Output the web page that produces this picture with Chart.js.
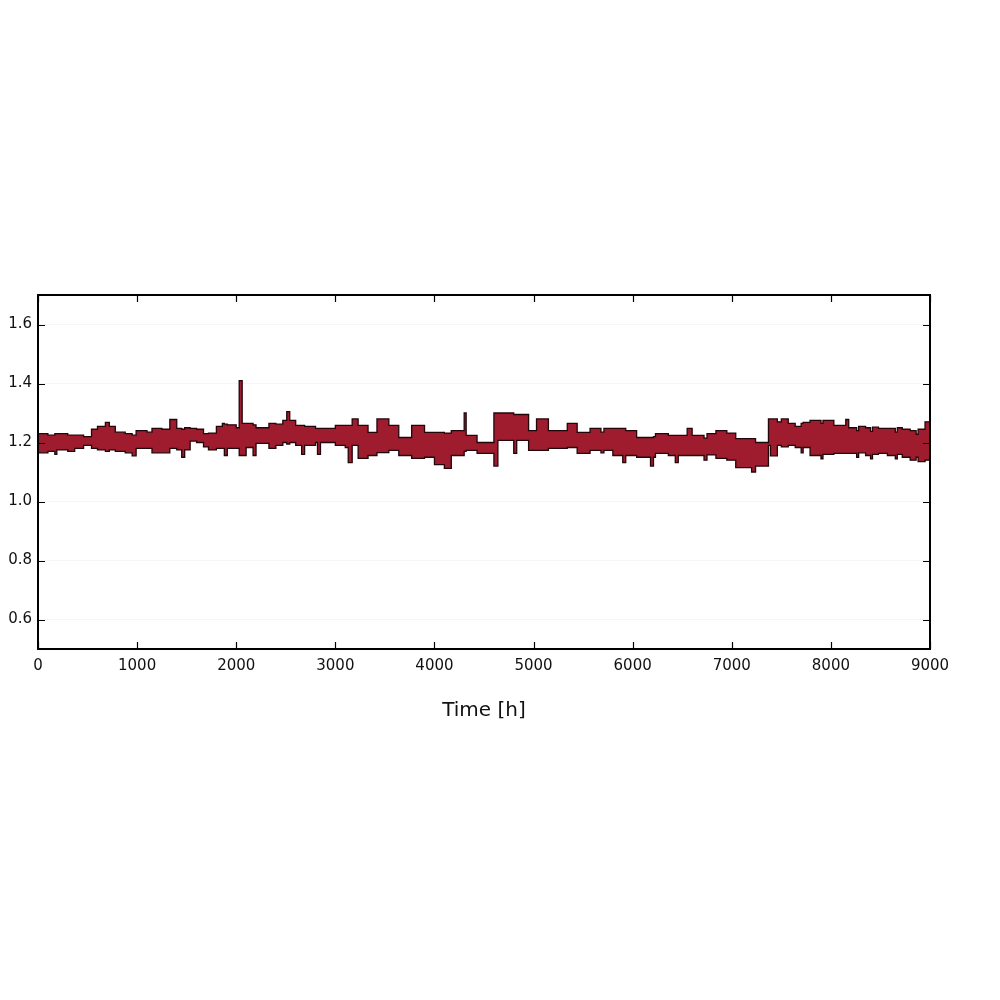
<!DOCTYPE html>
<html>
<head>
<meta charset="utf-8">
<title>Time series</title>
<script src="https://cdn.jsdelivr.net/npm/chart.js@4.4.1/dist/chart.umd.min.js"></script>
<style>
  html, body { margin: 0; padding: 0; background: #fff; }
  #wrap { width: 1000px; height: 1000px; }
</style>
</head>
<body>
<div id="wrap"><canvas id="signalChart" width="1000" height="1000"></canvas></div>
<script>
// ==========================
// Data (upper / lower edge of the dense band)
// ==========================
const hours = [
  0, 100, 170, 190, 300, 370, 460, 540, 600, 680, 720, 780, 880, 950, 990,
  1100, 1150, 1250, 1330, 1400, 1450, 1480, 1535, 1600, 1670, 1720, 1800, 1860, 1880, 1910,
  2000, 2030, 2060, 2100, 2170, 2200, 2330, 2400, 2470, 2510, 2540, 2600, 2660, 2690, 2800, 2820, 2850,
  3000, 3100, 3130, 3170, 3230, 3330, 3420, 3540, 3640, 3770, 3900,
  4000, 4100, 4170, 4300, 4320, 4430, 4600, 4640, 4800, 4830, 4950,
  5030, 5150, 5340, 5440, 5570, 5680, 5710, 5800, 5900, 5930,
  6040, 6180, 6210, 6230, 6360, 6430, 6460, 6550, 6600, 6720, 6750, 6840, 6950,
  7040, 7200, 7240, 7370, 7390, 7460, 7500, 7570, 7640, 7700, 7720, 7790, 7900, 7920,
  8030, 8150, 8180, 8260, 8280, 8350, 8400, 8420, 8480, 8570, 8650, 8670, 8720, 8800, 8860, 8880, 8950, 9000
];
const upper = [
  1.23, 1.225, 1.23, 1.23, 1.225, 1.225, 1.22, 1.245, 1.255, 1.268, 1.255, 1.235, 1.23, 1.225, 1.24,
  1.235, 1.248, 1.245, 1.278, 1.248, 1.245, 1.25, 1.248, 1.245, 1.23, 1.232, 1.255, 1.265, 1.262, 1.26,
  1.25, 1.41, 1.265, 1.265, 1.26, 1.25, 1.265, 1.262, 1.275, 1.305, 1.275, 1.258, 1.258, 1.255, 1.248, 1.248, 1.248,
  1.258, 1.258, 1.258, 1.28, 1.258, 1.234, 1.28, 1.258, 1.217, 1.258, 1.234,
  1.234, 1.232, 1.24, 1.3, 1.224, 1.2, 1.3, 1.3, 1.295, 1.295, 1.24,
  1.28, 1.24, 1.265, 1.234, 1.248, 1.235, 1.248, 1.248, 1.248, 1.24,
  1.217, 1.217, 1.22, 1.23, 1.224, 1.224, 1.224, 1.248, 1.224, 1.215, 1.23, 1.24, 1.232,
  1.213, 1.213, 1.2, 1.28, 1.28, 1.27, 1.28, 1.265, 1.255, 1.265, 1.268, 1.275, 1.265, 1.275,
  1.258, 1.278, 1.25, 1.24, 1.255, 1.25, 1.238, 1.252, 1.248, 1.248, 1.235, 1.25, 1.245, 1.24, 1.228, 1.245, 1.27, 1.24
];
const lower = [
  1.165, 1.17, 1.16, 1.175, 1.17, 1.18, 1.19, 1.18, 1.175, 1.17, 1.175, 1.17, 1.165, 1.155, 1.18,
  1.18, 1.165, 1.165, 1.18, 1.175, 1.15, 1.175, 1.205, 1.2, 1.185, 1.175, 1.18, 1.18, 1.156, 1.18,
  1.18, 1.156, 1.156, 1.183, 1.156, 1.197, 1.18, 1.19, 1.2, 1.195, 1.2, 1.19, 1.16, 1.19, 1.2, 1.16, 1.2,
  1.19, 1.183, 1.132, 1.19, 1.146, 1.156, 1.166, 1.173, 1.156, 1.146, 1.15,
  1.125, 1.112, 1.156, 1.17, 1.173, 1.163, 1.12, 1.207, 1.163, 1.207, 1.173,
  1.173, 1.18, 1.183, 1.163, 1.173, 1.165, 1.173, 1.156, 1.132, 1.156,
  1.15, 1.12, 1.15, 1.163, 1.156, 1.132, 1.156, 1.156, 1.156, 1.14, 1.158, 1.146, 1.14,
  1.115, 1.1, 1.12, 1.19, 1.155, 1.19, 1.185, 1.19, 1.183, 1.165, 1.183, 1.156, 1.145, 1.16,
  1.163, 1.163, 1.163, 1.15, 1.165, 1.156, 1.145, 1.16, 1.163, 1.156, 1.145, 1.16, 1.15, 1.14, 1.15, 1.135, 1.14, 1.14
];
const xTicks = [0, 1000, 2000, 3000, 4000, 5000, 6000, 7000, 8000, 9000];
const yTicks = [0.6, 0.8, 1.0, 1.2, 1.4, 1.6];

document.addEventListener("DOMContentLoaded", function() {
  const canvas = document.getElementById("signalChart");

  // ==========================
  // Box frame + inward ticks (matplotlib look)
  // ==========================
  const framePlugin = {
    id: "frame",
    afterDatasetsDraw(chart) {
      const { ctx, chartArea: a, scales } = chart;
      const len = 7;
      ctx.save();
      ctx.strokeStyle = "#000";
      ctx.lineWidth = 1.2;
      ctx.beginPath();
      scales.x.ticks.forEach((t, i) => {
        const px = Math.round(scales.x.getPixelForTick(i)) + 0.5;
        ctx.moveTo(px, a.bottom); ctx.lineTo(px, a.bottom - len);
        ctx.moveTo(px, a.top);    ctx.lineTo(px, a.top + len);
      });
      scales.y.ticks.forEach((t, i) => {
        const py = Math.round(scales.y.getPixelForTick(i)) + 0.5;
        ctx.moveTo(a.left, py);  ctx.lineTo(a.left + len, py);
        ctx.moveTo(a.right, py); ctx.lineTo(a.right - len, py);
      });
      ctx.stroke();
      ctx.lineWidth = 2;
      ctx.strokeRect(a.left, a.top, a.right - a.left, a.bottom - a.top);
      ctx.restore();
    }
  };

  const lowerPts = hours.map((h, i) => ({ x: h, y: lower[i] }));
  const upperPts = hours.map((h, i) => ({ x: h, y: upper[i] }));

  new Chart(canvas.getContext("2d"), {
    type: "line",
    data: {
      datasets: [
        {
          label: "lower",
          data: lowerPts,
          borderColor: "#22060a",
          borderWidth: 1.3,
          pointRadius: 0,
          stepped: true,
          fill: false
        },
        {
          label: "upper",
          data: upperPts,
          borderColor: "#22060a",
          borderWidth: 1.3,
          backgroundColor: "#9e1c2e",
          pointRadius: 0,
          stepped: true,
          fill: "-1"
        }
      ]
    },
    options: {
      responsive: false,
      animation: false,
      layout: { padding: { left: 0, top: 295, right: 70, bottom: 273 } },
      plugins: {
        legend: { display: false },
        tooltip: { enabled: false }
      },
      scales: {
        x: {
          type: "linear",
          min: 0,
          max: 9000,
          afterBuildTicks: s => { s.ticks = xTicks.map(v => ({ value: v })); },
          afterFit: s => { s.height = 78; },
          border: { display: false },
          grid: { display: false, drawTicks: false },
          ticks: {
            padding: 8,
            color: "#111",
            font: { family: "DejaVu Sans", size: 15 },
            maxRotation: 0,
            callback: v => String(v)
          },
          title: {
            display: true,
            text: "Time [h]",
            color: "#111",
            font: { family: "DejaVu Sans", size: 20 }
          }
        },
        y: {
          min: 0.5,
          max: 1.7,
          afterBuildTicks: s => { s.ticks = yTicks.map(v => ({ value: v })); },
          afterFit: s => { s.width = 38; },
          border: { display: false },
          grid: { color: "rgba(0,0,0,0.035)", drawTicks: false },
          ticks: {
            padding: 6,
            color: "#111",
            font: { family: "DejaVu Sans", size: 15 },
            callback: v => Number(v).toFixed(1)
          }
        }
      }
    },
    plugins: [framePlugin]
  });
});
</script>
</body>
</html>
